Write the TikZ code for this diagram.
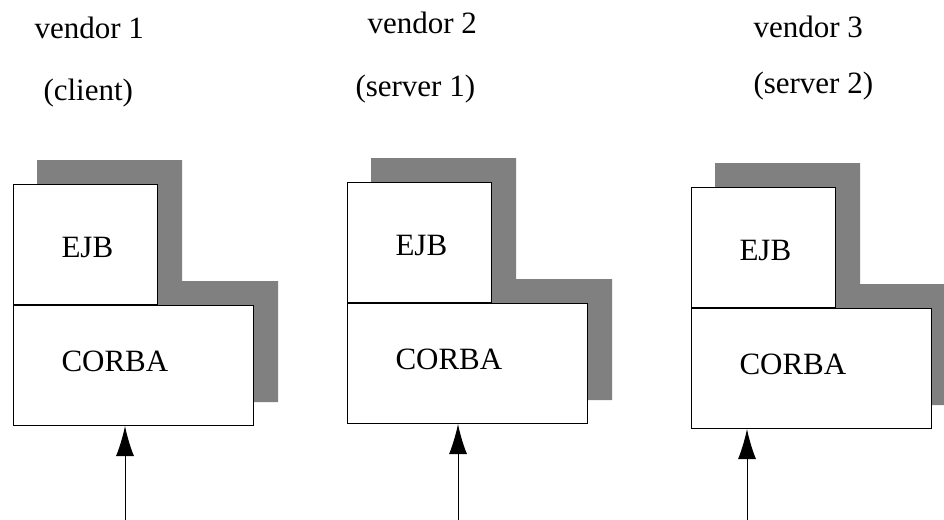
\documentclass[tikz,border=0pt]{standalone}
\usepackage{fontspec}
\setmainfont{Liberation Serif}
\usetikzlibrary{arrows.meta,backgrounds,positioning}

\def\stack#1#2#3#4{
	\node[box,minimum width=72pt,anchor=north west] (ejb#1) at (#2,#3) {};
	\node[box,minimum width=120pt,anchor=north west] (corba#1) at (ejb#1.south west) {};
	\node[word,right=24pt of ejb#1.west,yshift=-1.5pt] (ejbtext#1) {EJB};
	\node[word,right=24pt of corba#1.west,yshift=2pt] (corbatext#1) {CORBA};
	\begin{scope}[on background layer]
	\fill[backfill] ([sh]ejb#1.north west) -- ([sh]ejb#1.north east) -- ([sh]ejb#1.south east)
		-- ([sh]corba#1.north east) -- ([sh]corba#1.south east) -- ([sh]corba#1.south west) -- cycle;
	\end{scope}
	\coordinate (in#1) at (#4,520);
	\draw[->] (in#1) -- (in#1 |- corba#1.south);
}

\begin{document}
\begin{tikzpicture}[x=0.5pt,y=-0.5pt,line width=0.5pt,>={Latex[length=15pt,width=9pt]},
	box/.style={draw,fill=white,inner sep=0pt,minimum height=60pt},
	word/.style={inner sep=0pt,font=\fontsize{15.5}{18}\selectfont},
	backfill/.style={fill=gray},
	sh/.style={shift={(24,-24)}}]
\useasboundingbox (0,0) rectangle (944,520);

\stack{1}{13}{184}{125}
\stack{2}{347}{182}{458}
\stack{3}{691}{187}{747}

\node[word,anchor=base west] (vendor1) at (34,38) {vendor 1};
\node[word,anchor=base west] (role1) at (43,100) {(client)};
\node[word,anchor=base west] (vendor2) at (367,33) {vendor 2};
\node[word,anchor=base west] (role2) at (355,96) {(server 1)};
\node[word,anchor=base west] (vendor3) at (753,37) {vendor 3};
\node[word,anchor=base west] (role3) at (753,93) {(server 2)};
\end{tikzpicture}
\end{document}
